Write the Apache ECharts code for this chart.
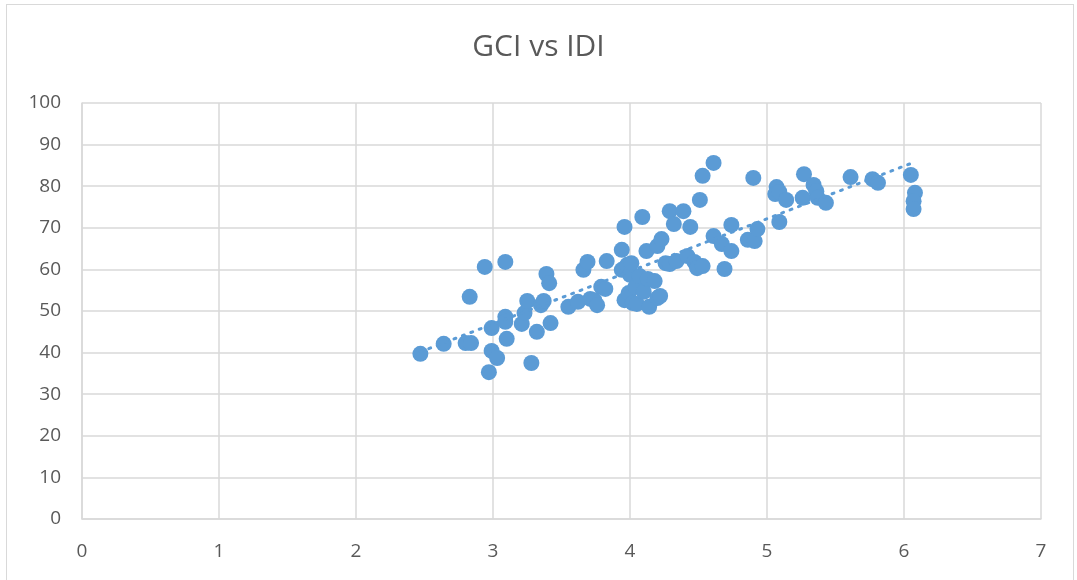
<!DOCTYPE html>
<html>
<head>
<meta charset="utf-8">
<script src="https://cdn.jsdelivr.net/npm/echarts@6/dist/echarts.min.js"></script>
<style>
  html, body { margin: 0; padding: 0; background: #fff; }
  #frame { position: absolute; left: 6px; top: 4px; width: 1068px; height: 580px; border: 1px solid #d9d9d9; box-sizing: border-box; }
  #chart { position: absolute; left: 0; top: 0; width: 1077px; height: 580px; }
</style>
</head>
<body>
<div id="frame"></div>
<div id="chart"></div>
<script>
// IDI (x) values
var idi = [2.47, 2.64, 2.80, 2.84, 2.83, 2.94, 2.99, 2.97, 2.99, 3.03,
  3.09, 3.09, 3.09, 3.10, 3.21, 3.23, 3.25, 3.28, 3.32, 3.35,
  3.37, 3.39, 3.41, 3.42, 3.55, 3.62, 3.66, 3.69, 3.71, 3.74,
  3.76, 3.79, 3.82, 3.83, 3.94, 3.94, 3.96, 3.96, 3.98, 3.99,
  4.00, 4.01, 4.02, 4.04, 4.05, 4.07, 4.09, 4.10, 4.13, 4.12,
  4.14, 4.18, 4.20, 4.20, 4.22, 4.23, 4.26, 4.29, 4.29, 4.32,
  4.34, 4.39, 4.42, 4.44, 4.47, 4.49, 4.51, 4.53, 4.53, 4.61,
  4.61, 4.67, 4.69, 4.74, 4.74, 4.86, 4.90, 4.91, 4.93, 5.07,
  5.06, 5.09, 5.09, 5.14, 5.26, 5.27, 5.34, 5.36, 5.37, 5.43,
  5.61, 5.77, 5.81, 6.05, 6.08, 6.07, 6.07];
// GCI (y) values
var gci = [39.7, 42.1, 42.3, 42.3, 53.4, 60.6, 45.9, 35.3, 40.4, 38.7,
  61.8, 48.6, 47.4, 43.3, 46.9, 49.5, 52.4, 37.5, 45.0, 51.4,
  52.4, 58.9, 56.7, 47.1, 51.0, 52.2, 59.9, 61.8, 52.9, 52.6,
  51.4, 55.8, 55.3, 62.0, 64.7, 59.9, 70.2, 52.6, 61.1, 54.3,
  58.7, 61.5, 51.9, 55.8, 51.7, 58.4, 72.6, 54.6, 57.7, 64.4,
  51.0, 57.2, 65.6, 53.1, 53.6, 67.3, 61.5, 74.0, 61.3, 70.9,
  62.0, 74.0, 63.2, 70.2, 61.8, 60.3, 76.7, 60.8, 82.5, 85.6,
  68.0, 66.1, 60.1, 64.4, 70.7, 67.1, 82.0, 66.8, 69.7, 79.8,
  78.1, 78.6, 71.4, 76.7, 77.2, 82.9, 80.3, 78.8, 77.2, 76.0,
  82.2, 81.7, 80.8, 82.7, 78.4, 76.4, 74.5];

var xTicks = [0, 1, 2, 3, 4, 5, 6, 7];
var yTicks = [0, 10, 20, 30, 40, 50, 60, 70, 80, 90, 100];

var points = idi.map(function (x, i) { return [x, gci[i]]; });

// linear trendline (least squares), drawn from min to max x
var n = idi.length, sx = 0, sy = 0, sxy = 0, sxx = 0;
for (var i = 0; i < n; i++) {
  sx += idi[i]; sy += gci[i]; sxy += idi[i] * gci[i]; sxx += idi[i] * idi[i];
}
var slope = (n * sxy - sx * sy) / (n * sxx - sx * sx);
var icpt = (sy - slope * sx) / n;
var xMin = Math.min.apply(null, idi), xMax = Math.max.apply(null, idi);
var trend = [[xMin, icpt + slope * xMin], [xMax, icpt + slope * xMax]];

var font = '"Open Sans", sans-serif';
var gridColor = '#d9d9d9';
var myChart = echarts.init(document.getElementById('chart'));
var options = {
  animation: false,
  title: {
    text: 'GCI vs IDI',
    left: 'center',
    top: 27,
    textStyle: { fontFamily: font, fontSize: 30, fontWeight: 'normal', color: '#595959' }
  },
  grid: { left: 82, top: 103, right: 36, bottom: 61 },
  xAxis: {
    type: 'value',
    min: xTicks[0], max: xTicks[xTicks.length - 1], interval: 1,
    axisLine: { show: true, lineStyle: { color: gridColor, width: 1.5 } },
    axisTick: { show: false },
    axisLabel: { margin: 23, fontFamily: font, fontSize: 19, color: '#595959' },
    splitLine: { show: true, lineStyle: { color: gridColor, width: 1.5 } }
  },
  yAxis: {
    type: 'value',
    min: yTicks[0], max: yTicks[yTicks.length - 1], interval: 10,
    axisLine: { show: true, lineStyle: { color: gridColor, width: 1.5 } },
    axisTick: { show: false },
    axisLabel: { margin: 21, fontFamily: font, fontSize: 19, color: '#595959' },
    splitLine: { show: true, lineStyle: { color: gridColor, width: 1.5 } }
  },
  series: [
    {
      type: 'scatter',
      data: points,
      symbolSize: 16,
      itemStyle: { color: '#5b9bd5', opacity: 1 },
      z: 2
    },
    {
      type: 'line',
      data: trend,
      symbol: 'none',
      lineStyle: { color: '#5b9bd5', width: 3, type: [2, 7], cap: 'round' },
      z: 3
    }
  ]
};
myChart.setOption(options, true);
</script>
</body>
</html>
